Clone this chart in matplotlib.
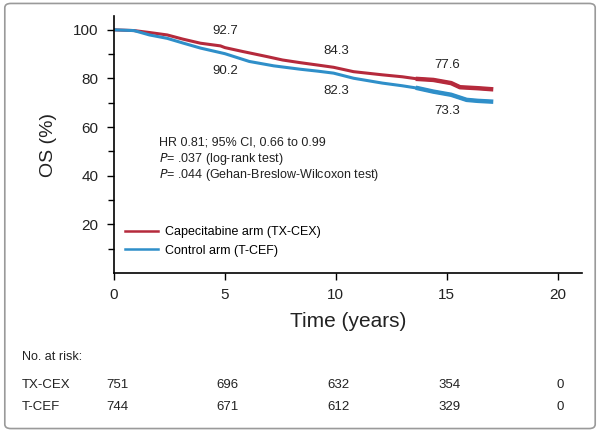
import numpy as np
import matplotlib.pyplot as plt
from matplotlib.patches import FancyBboxPatch

plt.rcParams['font.family'] = ['Liberation Sans', 'DejaVu Sans']

# === DATA ===
red_t = [0, 0.9, 1.6, 2.4, 3.1, 3.9, 4.8, 5.0, 5.8, 6.9, 7.6, 8.4, 9.2, 9.9, 10.8, 12.1, 13.0, 13.7, 14.4, 15.2, 15.6, 16.4, 17.0]
red_s = [100, 99.7, 98.9, 97.9, 96.2, 94.5, 93.4, 92.7, 91.1, 89.0, 87.6, 86.5, 85.5, 84.6, 82.8, 81.5, 80.7, 79.8, 79.4, 78.1, 76.4, 76.0, 75.6]
blue_t = [0, 0.9, 1.6, 2.4, 3.1, 3.9, 5.0, 6.1, 7.2, 8.4, 9.2, 9.9, 10.8, 12.1, 13.0, 13.7, 14.4, 15.2, 15.9, 16.4, 17.0]
blue_s = [100, 99.7, 97.9, 96.5, 94.6, 92.5, 90.2, 87.0, 85.2, 83.8, 83.0, 82.2, 80.1, 78.1, 77.0, 76.0, 74.6, 73.3, 71.2, 70.8, 70.5]

label_years = [5, 10, 15]
red_labels = ['92.7', '84.3', '77.6']
blue_labels = ['90.2', '82.3', '73.3']

risk_years = [0, 5, 10, 15, 20]
risk_txcex = [751, 696, 632, 354, 0]
risk_tcef = [744, 671, 612, 329, 0]

red = '#b52a3c'
blue = '#2f8fc9'
txt = '#222222'

fig = plt.figure(figsize=(6, 4.32), dpi=100)
ax = fig.add_axes([0.19, 0.368, 0.78, 0.595])

ax.plot(red_t, red_s, color=red, lw=2.2, label='Capecitabine arm (TX-CEX)')
ax.plot(blue_t, blue_s, color=blue, lw=2.2, label='Control arm (T-CEF)')
# denser censoring marks near the tail
ax.plot(red_t[-6:], red_s[-6:], color=red, lw=3.2)
ax.plot(blue_t[-6:], blue_s[-6:], color=blue, lw=3.2)

# yearly labels
for yr, rl, bl in zip(label_years, red_labels, blue_labels):
    ry = np.interp(yr, red_t, red_s)
    by = np.interp(yr, blue_t, blue_s)
    ax.text(yr, ry + 4.5, rl, ha='center', va='bottom', fontsize=9.5, color=txt)
    ax.text(yr, by - 4.5, bl, ha='center', va='top', fontsize=9.5, color=txt)

ax.text(2.05, 53.5, 'HR 0.81; 95% CI, 0.66 to 0.99', fontsize=9, va='center', color=txt)
ax.text(2.05, 47.0, r'$\it{P}$= .037 (log-rank test)', fontsize=9, va='center', color=txt)
ax.text(2.05, 40.2, r'$\it{P}$= .044 (Gehan-Breslow-Wilcoxon test)', fontsize=9, va='center', color=txt)

leg = ax.legend(loc='lower left', bbox_to_anchor=(0.0, 0.02), frameon=False, fontsize=9,
                handlelength=2.6, handletextpad=0.6, labelspacing=0.5)
for line in leg.get_lines():
    line.set_linewidth(1.8)

ax.set_xlim(0, 21.1)
ax.set_ylim(0, 105.7)
ax.set_xticks([0, 5, 10, 15, 20])
ax.set_yticks([20, 40, 60, 80, 100])
ax.set_yticks([10, 30, 50, 70, 90], minor=True)
ax.tick_params(axis='both', direction='out', length=5, width=1, labelsize=11, pad=6, labelcolor=txt)
ax.tick_params(axis='y', which='minor', direction='out', length=4, width=1)
for s in ['top', 'right']:
    ax.spines[s].set_visible(False)
for s in ['left', 'bottom']:
    ax.spines[s].set_linewidth(1.2)

ax.set_xlabel('Time (years)', fontsize=15, labelpad=7, color=txt)
ax.set_ylabel('OS (%)', fontsize=14, labelpad=12, color=txt)

# number at risk table
fig.text(22 / 600, 1 - 357 / 432, 'No. at risk:', fontsize=9, va='center', color=txt)
row_y = [1 - 385 / 432, 1 - 407 / 432]
for name, counts, yy in zip(['TX-CEX', 'T-CEF'], [risk_txcex, risk_tcef], row_y):
    fig.text(22 / 600, yy, name, fontsize=9.5, va='center', color=txt)
    for yr, n in zip(risk_years, counts):
        xf = ax.transData.transform((yr, 0))[0] / fig.bbox.width
        fig.text(xf + 3 / 600, yy, str(n), fontsize=9.5, va='center', ha='center', color=txt)

# outer frame
fig.patches.append(FancyBboxPatch((0.008, 0.008), 0.984, 0.984, boxstyle='round,pad=0,rounding_size=0.01',
                                  transform=fig.transFigure, fill=False, edgecolor='#9a9a9a', lw=1.2))

fig.savefig('out.png', dpi=100)
